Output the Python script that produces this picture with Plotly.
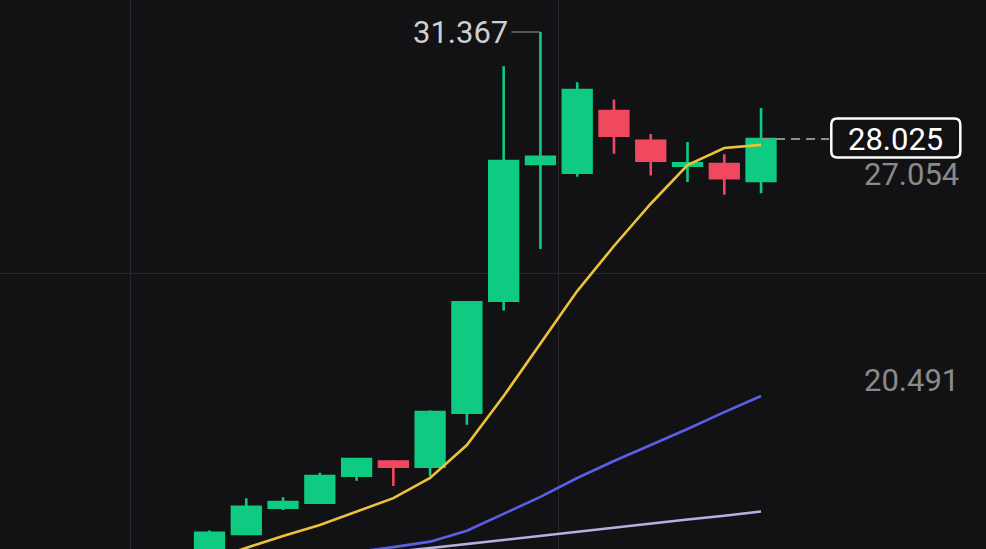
import plotly.graph_objects as go

# ---- data ----
idx = list(range(16))
opens = [14.90, 15.68, 16.50, 16.66, 17.50, 17.94, 17.78, 19.47, 22.97, 27.24, 26.97, 28.90, 27.97, 27.19, 27.24, 26.71]
highs = [15.79, 16.80, 16.83, 17.59, 18.05, 17.99, 19.55, 22.95, 30.30, 31.367, 29.80, 29.26, 28.18, 27.93, 27.545, 28.99]
lows = [14.80, 15.65, 16.43, 16.63, 17.34, 17.18, 17.49, 19.09, 22.66, 24.586, 26.845, 27.56, 26.88, 26.68, 26.28, 26.33]
closes = [15.72, 16.53, 16.68, 17.49, 18.02, 17.78, 19.49, 22.92, 27.336, 27.47, 29.55, 28.13, 27.345, 27.264, 26.80, 28.025]

ma_short = [14.87, 15.24, 15.62, 15.96, 16.37, 16.80, 17.43, 18.46, 19.99, 21.62, 23.27, 24.68, 26.00, 27.21, 27.74, 27.84]
ma_mid = [14.60, 14.75, 14.88, 15.00, 15.12, 15.27, 15.44, 15.78, 16.30, 16.84, 17.43, 17.96, 18.46, 18.96, 19.49, 19.99]
ma_long = [14.60, 14.72, 14.83, 14.93, 15.02, 15.12, 15.24, 15.37, 15.49, 15.62, 15.74, 15.87, 16.00, 16.13, 16.25, 16.38]

high_label = "31.367"
last_label = "28.025"
side_labels = [27.054, 20.491]

# ---- styling ----
W, H = 986, 549
BG = "#121214"
GREEN = "#0ecb81"
RED = "#f0485e"
YELLOW = "#ecc23a"
BLUE = "#5b5fe6"
LAVENDER = "#b6afe6"
GRID = "#28282c"
FONT = "Roboto"
Y_RANGE = [15.2106, 32.367]
X_RANGE = [-5.698, 21.118]

fig = go.Figure()
fig.add_trace(go.Candlestick(
    x=idx, open=opens, high=highs, low=lows, close=closes,
    increasing=dict(line=dict(color=GREEN, width=2.6), fillcolor=GREEN),
    decreasing=dict(line=dict(color=RED, width=2.6), fillcolor=RED),
    whiskerwidth=0, hoverinfo="skip",
))
for vals, col in [(ma_long, LAVENDER), (ma_mid, BLUE), (ma_short, YELLOW)]:
    fig.add_trace(go.Scatter(x=idx, y=vals, mode="lines",
                             line=dict(color=col, width=2.6), hoverinfo="skip"))

last_i = idx[-1]
last_close = closes[-1]
# current-price dashed line
fig.add_shape(type="line", xref="x", yref="y",
              x0=last_i, x1=last_i + 1.85, y0=last_close, y1=last_close,
              line=dict(color="#8c8c8c", width=2, dash="9px,6px"))

# highest price label
hi_i = highs.index(max(highs))
fig.add_annotation(x=hi_i, y=max(highs), xref="x", yref="y",
                   text=high_label, showarrow=True, arrowhead=0,
                   arrowwidth=1.2, arrowcolor="#9a9a9a", ax=-80, ay=0,
                   standoff=0, startstandoff=2,
                   font=dict(family=FONT, size=31, color="#cfcfcf"))

# last price box (rounded rectangle) centred on the last close
ypx = (Y_RANGE[1] - last_close) / (Y_RANGE[1] - Y_RANGE[0]) * H - 1
cx, hw, hh, r = 895.8, 64.5, 19.5, 6
x0, x1, y0, y1 = cx - hw, cx + hw, ypx - hh, ypx + hh
px = lambda v: f"{v / W:.5f}"
py = lambda v: f"{1 - v / H:.5f}"
path = (f"M{px(x0 + r)},{py(y0)} L{px(x1 - r)},{py(y0)} Q{px(x1)},{py(y0)} {px(x1)},{py(y0 + r)} "
        f"L{px(x1)},{py(y1 - r)} Q{px(x1)},{py(y1)} {px(x1 - r)},{py(y1)} "
        f"L{px(x0 + r)},{py(y1)} Q{px(x0)},{py(y1)} {px(x0)},{py(y1 - r)} "
        f"L{px(x0)},{py(y0 + r)} Q{px(x0)},{py(y0)} {px(x0 + r)},{py(y0)} Z")
fig.add_shape(type="path", xref="paper", yref="paper", path=path,
              line=dict(color="#ffffff", width=2.5), fillcolor=BG, layer="above")
fig.add_annotation(x=cx / W, y=last_close, xref="paper", yref="y", xanchor="center",
                   text=last_label, showarrow=False, height=30, borderpad=0,
                   font=dict(family=FONT, size=31, color="#ffffff"))

for v, shift in zip(side_labels, [-4, 0]):
    fig.add_annotation(x=0.9736, y=v, xref="paper", yref="y", yshift=shift,
                       text=f"{v:.3f}", showarrow=False, xanchor="right",
                       height=30, borderpad=0,
                       font=dict(family=FONT, size=31, color="#8a8a8a"))

fig.update_layout(
    width=W, height=H, autosize=False,
    margin=dict(l=0, r=0, t=0, b=0),
    paper_bgcolor=BG, plot_bgcolor=BG,
    showlegend=False, boxgap=0.22, boxgroupgap=0,
    xaxis=dict(range=X_RANGE, tickvals=[-2.16, 9.48], showticklabels=False,
               showgrid=True, gridcolor=GRID, gridwidth=1, zeroline=False,
               rangeslider=dict(visible=False), fixedrange=True),
    yaxis=dict(range=Y_RANGE, tickvals=[23.83], showticklabels=False,
               showgrid=True, gridcolor=GRID, gridwidth=1, zeroline=False, fixedrange=True),
)

fig.write_html("out.html", config={"displayModeBar": False},
               post_script="document.body.style.margin='0';document.body.style.background='#121214';")
